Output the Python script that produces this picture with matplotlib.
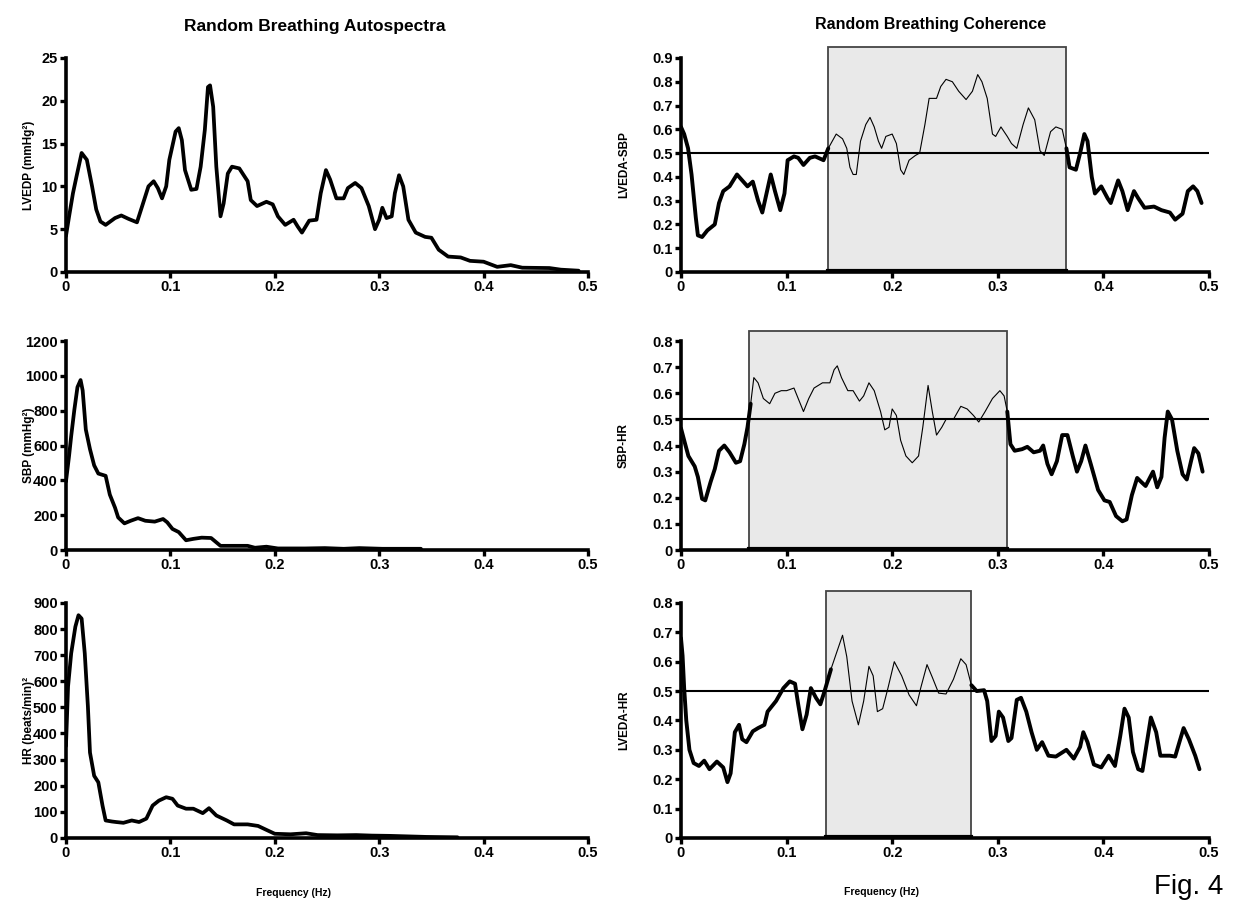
import numpy as np
import matplotlib
matplotlib.use("Agg")
import matplotlib.pyplot as plt
from matplotlib.patches import Rectangle

plt.rcParams['font.family'] = ['Liberation Sans', 'DejaVu Sans']

# ---- autospectra (left column) ----
lvedp_f = [0, 0.003, 0.0067, 0.010, 0.015, 0.020, 0.025, 0.029, 0.033, 0.038, 0.047, 0.053,
           0.060, 0.068, 0.073, 0.079, 0.084, 0.088, 0.092, 0.096, 0.099, 0.105, 0.108, 0.111,
           0.114, 0.120, 0.125, 0.129, 0.133, 0.136, 0.138, 0.141, 0.144, 0.148, 0.151, 0.155,
           0.159, 0.166, 0.174, 0.177, 0.183, 0.192, 0.198, 0.203, 0.210, 0.218, 0.222, 0.226,
           0.233, 0.240, 0.244, 0.249, 0.253, 0.259, 0.266, 0.270, 0.277, 0.283, 0.290, 0.296,
           0.300, 0.303, 0.307, 0.312, 0.315, 0.319, 0.323, 0.328, 0.335, 0.344, 0.350, 0.357,
           0.366, 0.378, 0.387, 0.400, 0.413, 0.426, 0.437, 0.463, 0.474, 0.491]
lvedp = [4.2, 6.5, 9.2, 11.1, 13.9, 13.1, 10.0, 7.3, 5.9, 5.5, 6.3, 6.6,
         6.2, 5.8, 7.7, 10.0, 10.6, 9.8, 8.6, 10.0, 13.1, 16.4, 16.8, 15.4,
         11.9, 9.6, 9.7, 12.3, 16.6, 21.6, 21.8, 19.3, 12.3, 6.5, 8.0, 11.5,
         12.3, 12.1, 10.6, 8.4, 7.7, 8.2, 7.9, 6.5, 5.5, 6.1, 5.3, 4.6,
         6.0, 6.1, 9.2, 11.9, 10.8, 8.6, 8.6, 9.8, 10.4, 9.8, 7.7, 5.0,
         6.1, 7.5, 6.3, 6.5, 9.2, 11.3, 10.0, 6.1, 4.6, 4.1, 4.0, 2.6,
         1.8, 1.7, 1.3, 1.2, 0.6, 0.8, 0.5, 0.46, 0.27, 0.15]

sbp_f = [0, 0.003, 0.005, 0.008, 0.011, 0.014, 0.016, 0.019, 0.023, 0.027, 0.031, 0.038,
         0.042, 0.047, 0.050, 0.056, 0.062, 0.069, 0.076, 0.085, 0.093, 0.097, 0.102, 0.108,
         0.115, 0.122, 0.130, 0.139, 0.148, 0.163, 0.174, 0.181, 0.192, 0.203, 0.229, 0.248,
         0.266, 0.281, 0.303, 0.340]
sbp = [393, 542, 654, 804, 935, 976, 916, 692, 579, 486, 439, 426,
       318, 243, 187, 153, 168, 183, 168, 163, 178, 159, 121, 103,
       56, 64, 71, 69, 24, 24, 24, 13, 19, 9, 9, 11,
       7, 11, 7, 7]

hr_f = [0, 0.002, 0.005, 0.009, 0.012, 0.015, 0.018, 0.021, 0.023, 0.027, 0.031, 0.035,
        0.038, 0.044, 0.048, 0.055, 0.063, 0.070, 0.077, 0.083, 0.089, 0.096, 0.102, 0.107,
        0.115, 0.122, 0.131, 0.137, 0.144, 0.154, 0.161, 0.174, 0.184, 0.193, 0.200, 0.215,
        0.230, 0.241, 0.260, 0.278, 0.293, 0.310, 0.345, 0.375]
hr = [352, 580, 707, 809, 853, 840, 707, 504, 327, 238, 213, 124,
      67, 63, 61, 58, 67, 61, 74, 124, 143, 156, 150, 124,
      112, 112, 95, 114, 86, 67, 52, 52, 46, 29, 16, 14,
      18, 11, 10, 11, 9, 8, 4, 2.5]

# ---- coherence (right column) ----
lveda_sbp_f = [0, 0.003, 0.0067, 0.010, 0.014, 0.016, 0.020, 0.025, 0.032, 0.036, 0.040, 0.046,
               0.053, 0.059, 0.063, 0.068, 0.073, 0.077, 0.082, 0.085, 0.089, 0.094, 0.098, 0.101,
               0.107, 0.111, 0.116, 0.122, 0.127, 0.135, 0.1395, 0.147, 0.153, 0.157, 0.160, 0.163,
               0.166, 0.170, 0.175, 0.179, 0.183, 0.187, 0.190, 0.194, 0.200, 0.204, 0.208, 0.211,
               0.216, 0.222, 0.226, 0.231, 0.235, 0.242, 0.246, 0.251, 0.257, 0.263, 0.270, 0.276,
               0.281, 0.285, 0.290, 0.295, 0.298, 0.303, 0.309, 0.313, 0.318, 0.324, 0.329, 0.335,
               0.340, 0.344, 0.350, 0.355, 0.361, 0.365, 0.368, 0.374, 0.378, 0.382, 0.385, 0.389,
               0.392, 0.398, 0.404, 0.407, 0.414, 0.418, 0.423, 0.429, 0.433, 0.439, 0.448, 0.455,
               0.463, 0.468, 0.475, 0.480, 0.485, 0.489, 0.493]
lveda_sbp = [0.61, 0.58, 0.52, 0.41, 0.23, 0.154, 0.147, 0.175, 0.20, 0.29, 0.34, 0.36,
             0.41, 0.38, 0.36, 0.38, 0.30, 0.25, 0.35, 0.41, 0.34, 0.26, 0.33, 0.47,
             0.486, 0.48, 0.45, 0.48, 0.486, 0.47, 0.52, 0.58, 0.56, 0.52, 0.44, 0.41,
             0.41, 0.55, 0.62, 0.65, 0.61, 0.55, 0.52, 0.57, 0.58, 0.54, 0.43, 0.41,
             0.47, 0.49, 0.50, 0.62, 0.73, 0.73, 0.78, 0.81, 0.80, 0.76, 0.725, 0.76,
             0.83, 0.80, 0.73, 0.58, 0.57, 0.61, 0.57, 0.54, 0.52, 0.62, 0.69, 0.64,
             0.51, 0.49, 0.59, 0.61, 0.60, 0.52, 0.44, 0.43, 0.50, 0.58, 0.55, 0.40,
             0.33, 0.36, 0.31, 0.29, 0.385, 0.34, 0.26, 0.34, 0.31, 0.27, 0.275, 0.26,
             0.25, 0.22, 0.245, 0.34, 0.36, 0.34, 0.29]

sbp_hr_f = [0, 0.004, 0.007, 0.013, 0.016, 0.020, 0.023, 0.028, 0.032, 0.036, 0.041, 0.046,
            0.052, 0.056, 0.060, 0.063, 0.066, 0.069, 0.073, 0.078, 0.084, 0.089, 0.095, 0.100,
            0.107, 0.111, 0.116, 0.121, 0.126, 0.134, 0.141, 0.145, 0.148, 0.152, 0.158, 0.163,
            0.169, 0.173, 0.178, 0.183, 0.189, 0.193, 0.197, 0.200, 0.204, 0.208, 0.213, 0.219,
            0.225, 0.229, 0.234, 0.238, 0.242, 0.247, 0.251, 0.258, 0.265, 0.271, 0.277, 0.282,
            0.288, 0.295, 0.302, 0.306, 0.309, 0.312, 0.316, 0.323, 0.328, 0.334, 0.340, 0.343,
            0.347, 0.351, 0.356, 0.361, 0.366, 0.371, 0.375, 0.379, 0.383, 0.388, 0.395, 0.401,
            0.406, 0.412, 0.418, 0.422, 0.427, 0.432, 0.436, 0.440, 0.447, 0.451, 0.455, 0.458,
            0.461, 0.465, 0.470, 0.475, 0.479, 0.483, 0.486, 0.490, 0.494]
sbp_hr = [0.466, 0.405, 0.36, 0.32, 0.28, 0.196, 0.19, 0.26, 0.31, 0.38, 0.40, 0.374,
          0.334, 0.34, 0.405, 0.47, 0.56, 0.66, 0.64, 0.58, 0.56, 0.60, 0.61, 0.61,
          0.62, 0.58, 0.53, 0.58, 0.62, 0.64, 0.64, 0.69, 0.705, 0.66, 0.61, 0.61,
          0.57, 0.59, 0.64, 0.61, 0.53, 0.46, 0.47, 0.54, 0.515, 0.42, 0.36, 0.334,
          0.36, 0.47, 0.63, 0.53, 0.44, 0.47, 0.50, 0.50, 0.55, 0.54, 0.515, 0.49,
          0.53, 0.58, 0.61, 0.59, 0.53, 0.405, 0.38, 0.386, 0.395, 0.374, 0.38, 0.40,
          0.33, 0.29, 0.34, 0.44, 0.44, 0.36, 0.30, 0.34, 0.40, 0.33, 0.23, 0.19,
          0.184, 0.13, 0.11, 0.117, 0.21, 0.276, 0.26, 0.245, 0.30, 0.24, 0.28, 0.43,
          0.53, 0.50, 0.38, 0.29, 0.27, 0.34, 0.39, 0.37, 0.30]

lveda_hr_f = [0, 0.0015, 0.003, 0.005, 0.008, 0.012, 0.017, 0.022, 0.027, 0.034, 0.040, 0.044,
              0.047, 0.051, 0.055, 0.058, 0.062, 0.068, 0.073, 0.079, 0.082, 0.090, 0.097, 0.103,
              0.108, 0.111, 0.115, 0.119, 0.123, 0.128, 0.132, 0.136, 0.142, 0.147, 0.153, 0.157,
              0.162, 0.168, 0.173, 0.178, 0.182, 0.186, 0.191, 0.196, 0.202, 0.209, 0.216, 0.223,
              0.227, 0.233, 0.238, 0.244, 0.251, 0.258, 0.265, 0.270, 0.275, 0.280, 0.287, 0.290,
              0.294, 0.298, 0.301, 0.305, 0.310, 0.313, 0.318, 0.322, 0.327, 0.332, 0.337, 0.342,
              0.348, 0.355, 0.365, 0.372, 0.378, 0.381, 0.385, 0.391, 0.398, 0.405, 0.411, 0.416,
              0.420, 0.424, 0.428, 0.433, 0.437, 0.441, 0.445, 0.450, 0.454, 0.463, 0.468, 0.472,
              0.476, 0.481, 0.487, 0.491]
lveda_hr = [0.68, 0.62, 0.51, 0.40, 0.30, 0.255, 0.245, 0.263, 0.234, 0.26, 0.24, 0.19,
            0.22, 0.36, 0.385, 0.336, 0.326, 0.363, 0.374, 0.385, 0.43, 0.466, 0.51, 0.533,
            0.525, 0.455, 0.37, 0.42, 0.51, 0.476, 0.455, 0.50, 0.574, 0.627, 0.69, 0.617,
            0.466, 0.385, 0.466, 0.584, 0.552, 0.43, 0.44, 0.51, 0.60, 0.552, 0.487, 0.45,
            0.51, 0.59, 0.547, 0.493, 0.49, 0.54, 0.61, 0.59, 0.52, 0.50, 0.503, 0.466,
            0.33, 0.347, 0.43, 0.41, 0.33, 0.34, 0.47, 0.477, 0.43, 0.36, 0.30, 0.326,
            0.28, 0.277, 0.30, 0.27, 0.31, 0.36, 0.326, 0.25, 0.24, 0.28, 0.245, 0.347,
            0.44, 0.41, 0.293, 0.234, 0.228, 0.32, 0.41, 0.36, 0.28, 0.28, 0.277, 0.326,
            0.374, 0.336, 0.28, 0.234]

# significant coherence bands (Hz)
bands = [(0.1395, 0.365), (0.064, 0.309), (0.137, 0.275)]

left_specs = [
    (lvedp_f, lvedp, 'LVEDP (mmHg²)', 25, 5),
    (sbp_f, sbp, 'SBP (mmHg²)', 1200, 200),
    (hr_f, hr, 'HR (beats/min)²', 900, 100),
]
right_specs = [
    (lveda_sbp_f, lveda_sbp, 'LVEDA-SBP', 0.9, bands[0]),
    (sbp_hr_f, sbp_hr, 'SBP-HR', 0.8, bands[1]),
    (lveda_hr_f, lveda_hr, 'LVEDA-HR', 0.8, bands[2]),
]

fig = plt.figure(figsize=(12.33, 9.17), dpi=100)

rows = [(0.7034, 0.2334), (0.4002, 0.2279), (0.0862, 0.2563)]
xticks = np.arange(0, 0.51, 0.1)
xlabels = ['0', '0.1', '0.2', '0.3', '0.4', '0.5']
TICK_FS = 10.5


def style_axes(ax):
    for s in ['top', 'right']:
        ax.spines[s].set_visible(False)
    for s in ['left', 'bottom']:
        ax.spines[s].set_linewidth(2.6)
    ax.tick_params(width=2.4, length=4, labelsize=TICK_FS, pad=2)
    ax.set_xlim(0, 0.5)
    ax.set_xticks(xticks)
    ax.set_xticklabels(xlabels, fontweight='bold')


for (f, v, lab, ymax, step), (b, h) in zip(left_specs, rows):
    ax = fig.add_axes([0.0535, b, 0.4234, h])
    ax.plot(f, v, color='black', lw=2.7, solid_joinstyle='round', solid_capstyle='round')
    ax.set_ylim(0, ymax)
    ax.set_yticks(np.arange(0, ymax + step / 2, step))
    style_axes(ax)
    ax.set_yticklabels([str(int(t)) for t in ax.get_yticks()], fontweight='bold')
    ax.set_ylabel(lab, fontsize=8.5, fontweight='bold')
    ax.yaxis.set_label_coords(-0.06, 0.5)

for (f, v, lab, ymax, band), (b, h) in zip(right_specs, rows):
    ax = fig.add_axes([0.5523, b, 0.4282, h])
    f = np.array(f)
    v = np.array(v)
    lo, hi = band
    # shaded band, extending a little above the axes
    rect = Rectangle((lo, 0), hi - lo, ymax * 1.05, facecolor='#e9e9e9',
                     edgecolor='#444444', lw=1.3, clip_on=False, zorder=1)
    ax.add_patch(rect)
    ax.plot([lo, hi], [0.006 * ymax, 0.006 * ymax], color='black', lw=3, zorder=2)
    ax.axhline(0.5, color='black', lw=1.5, zorder=3)
    inside = (f >= lo) & (f <= hi)
    # thick outside the band, thin inside
    idx_in = np.where(inside)[0]
    i0, i1 = idx_in[0], idx_in[-1]
    kw = dict(color='black', zorder=4, solid_joinstyle='round', solid_capstyle='round')
    ax.plot(f[:i0 + 1], v[:i0 + 1], lw=2.8, **kw)
    ax.plot(f[i1:], v[i1:], lw=2.8, **kw)
    ax.plot(f[i0:i1 + 1], v[i0:i1 + 1], lw=0.8, **kw)
    ax.set_ylim(0, ymax)
    ax.set_yticks(np.arange(0, ymax + 0.05, 0.1))
    style_axes(ax)
    ax.set_yticklabels(['0'] + ['%.1f' % t for t in ax.get_yticks()[1:]], fontweight='bold')
    ax.set_ylabel(lab, fontsize=8.5, fontweight='bold')
    ax.yaxis.set_label_coords(-0.097, 0.5)

fig.text(315 / 1233, 1 - 27 / 917, 'Random Breathing Autospectra', ha='center', va='center',
         fontsize=12.5, fontweight='bold')
fig.text(931 / 1233, 1 - 25 / 917, 'Random Breathing Coherence', ha='center', va='center',
         fontsize=11.5, fontweight='bold')
fig.text(294 / 1233, 1 - 893 / 917, 'Frequency (Hz)', ha='center', va='center',
         fontsize=7.5, fontweight='bold')
fig.text(882 / 1233, 1 - 892 / 917, 'Frequency (Hz)', ha='center', va='center',
         fontsize=7.5, fontweight='bold')
fig.text(1189 / 1233, 1 - 887 / 917, 'Fig. 4', ha='center', va='center', fontsize=20)

fig.savefig('out.png', dpi=100)
